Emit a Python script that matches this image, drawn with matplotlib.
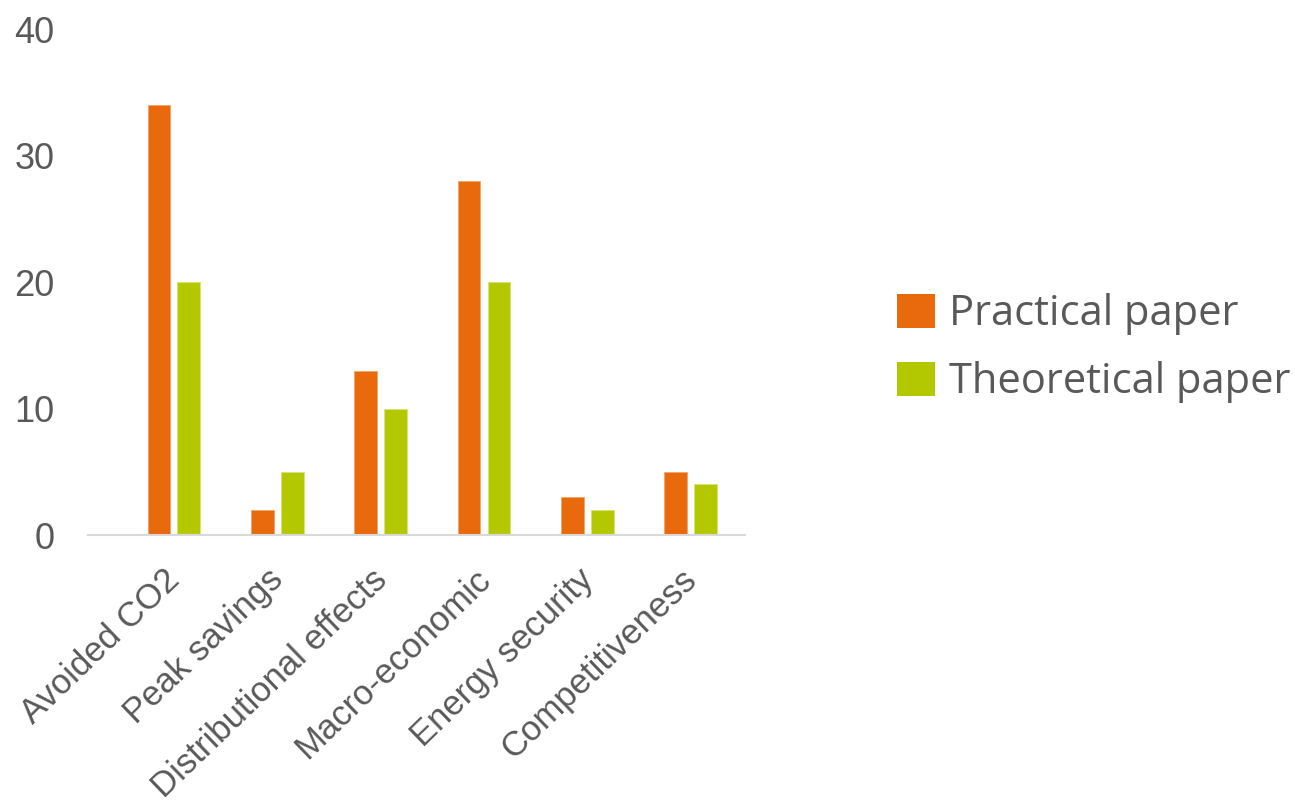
import matplotlib
matplotlib.use('Agg')
import matplotlib.pyplot as plt
import numpy as np
from matplotlib.patches import Patch

categories = ["Avoided CO2", "Peak savings", "Distributional effects",
              "Macro-economic", "Energy security", "Competitiveness"]
practical = [34, 2, 13, 28, 3, 5]
theoretical = [20, 5, 10, 20, 2, 4]
series_names = ["Practical paper", "Theoretical paper"]
yticks = [0, 10, 20, 30, 40]

orange = "#E96A0C"
green = "#B4C800"
text_gray = "#595959"

plt.rcParams['font.family'] = ['Liberation Sans', 'DejaVu Sans']

fig = plt.figure(figsize=(12.95, 8.1), dpi=100)
ax = fig.add_axes([0.068, 0.3395, 0.507, 0.624])

x = np.arange(len(categories))
w = 0.22
off = 0.145
ax.bar(x - off, practical, w, color=orange, edgecolor="#F3A36A", linewidth=0.6)
ax.bar(x + off, theoretical, w, color=green, edgecolor="#D6E27A", linewidth=0.6)

ax.set_xlim(-0.83, 5.52)
ax.set_ylim(0, 40)
ax.set_yticks(yticks)
ax.set_yticklabels([str(t) for t in yticks], fontsize=26, color=text_gray)
# labels sit a bit left of the bar pair centre
ax.set_xticks(x - 0.1)
ax.set_xticklabels(categories, rotation=44, ha='right', rotation_mode='anchor',
                   fontsize=25, color=text_gray)
ax.tick_params(axis='both', length=0)
ax.tick_params(axis='y', pad=24)
ax.tick_params(axis='x', pad=20)

for s in ['top', 'right', 'left']:
    ax.spines[s].set_visible(False)
ax.spines['bottom'].set_color("#D9D9D9")
ax.spines['bottom'].set_linewidth(1.5)

handles = [Patch(facecolor=orange), Patch(facecolor=green)]
fig.legend(handles, series_names, loc='center left', bbox_to_anchor=(0.6927, 0.57),
           frameon=False, prop={'family': ['Open Sans', 'DejaVu Sans'], 'size': 30},
           labelcolor=text_gray, handlelength=0.9, handleheight=0.9,
           handletextpad=0.35, labelspacing=0.63, borderaxespad=0, borderpad=0)

fig.savefig("out.png", dpi=100, facecolor="white")
